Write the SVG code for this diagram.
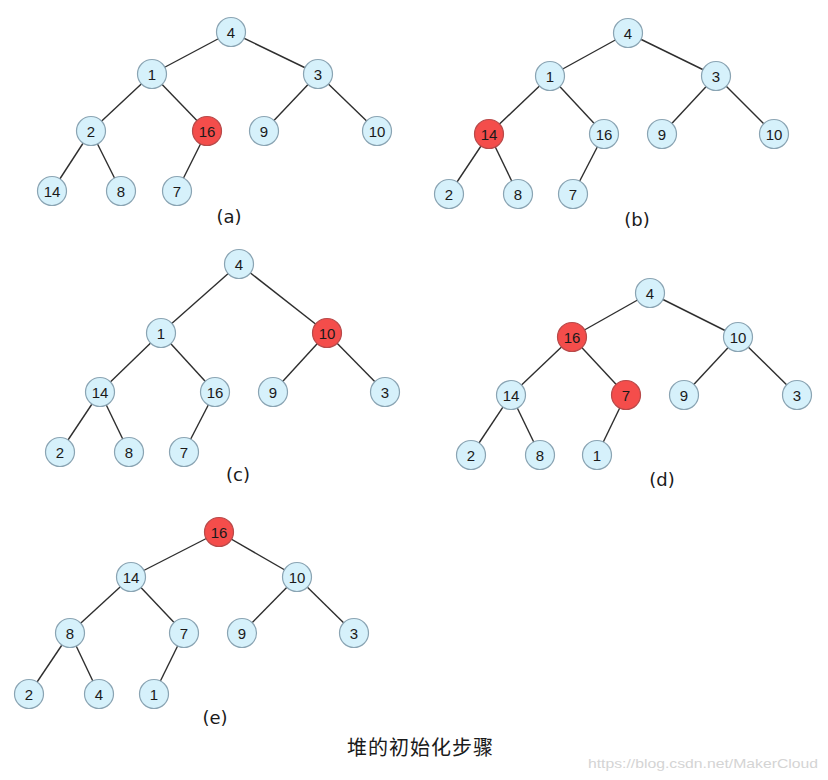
<svg xmlns="http://www.w3.org/2000/svg" width="828" height="780" viewBox="0 0 828 780">
<style>
.e{stroke:#2e2e2e;stroke-width:1.4;fill:none}
.n circle{fill:#d6f1fb;stroke:#8aa4b3;stroke-width:1.2}
.n.r circle{fill:#f44d4b;stroke:#b84a4a}
.n text{font-family:"Liberation Sans",Arial,sans-serif;font-size:15px;fill:#1a1a1a;text-anchor:middle;dominant-baseline:central}
.lb{font-family:"DejaVu Sans","Liberation Sans",sans-serif;font-size:18px;fill:#1a1a1a;text-anchor:middle}
</style>
<rect width="828" height="780" fill="#ffffff"/>
<g id="connectors">
<!-- (a) -->
<line class="e" x1="231" y1="32" x2="152" y2="74"/>
<line class="e" x1="231" y1="32" x2="318" y2="74"/>
<line class="e" x1="152" y1="74" x2="91" y2="131"/>
<line class="e" x1="152" y1="74" x2="207" y2="131"/>
<line class="e" x1="318" y1="74" x2="264" y2="131"/>
<line class="e" x1="318" y1="74" x2="377" y2="131"/>
<line class="e" x1="91" y1="131" x2="52" y2="191"/>
<line class="e" x1="91" y1="131" x2="121" y2="191"/>
<line class="e" x1="207" y1="131" x2="177" y2="191"/>
<!-- (b) -->
<line class="e" x1="628" y1="33" x2="550" y2="76"/>
<line class="e" x1="628" y1="33" x2="716" y2="76"/>
<line class="e" x1="550" y1="76" x2="489" y2="134"/>
<line class="e" x1="550" y1="76" x2="604" y2="134"/>
<line class="e" x1="716" y1="76" x2="662" y2="134"/>
<line class="e" x1="716" y1="76" x2="774" y2="134"/>
<line class="e" x1="489" y1="134" x2="449" y2="194"/>
<line class="e" x1="489" y1="134" x2="518" y2="194"/>
<line class="e" x1="604" y1="134" x2="573" y2="194"/>
<!-- (c) -->
<line class="e" x1="239" y1="264" x2="161" y2="333"/>
<line class="e" x1="239" y1="264" x2="327" y2="333"/>
<line class="e" x1="161" y1="333" x2="100" y2="392"/>
<line class="e" x1="161" y1="333" x2="215" y2="392"/>
<line class="e" x1="327" y1="333" x2="273" y2="392"/>
<line class="e" x1="327" y1="333" x2="385" y2="392"/>
<line class="e" x1="100" y1="392" x2="60" y2="452"/>
<line class="e" x1="100" y1="392" x2="129" y2="452"/>
<line class="e" x1="215" y1="392" x2="184" y2="452"/>
<!-- (d) -->
<line class="e" x1="650" y1="293" x2="572" y2="337"/>
<line class="e" x1="650" y1="293" x2="738" y2="337"/>
<line class="e" x1="572" y1="337" x2="511" y2="395"/>
<line class="e" x1="572" y1="337" x2="626" y2="395"/>
<line class="e" x1="738" y1="337" x2="684" y2="395"/>
<line class="e" x1="738" y1="337" x2="797" y2="395"/>
<line class="e" x1="511" y1="395" x2="471" y2="455"/>
<line class="e" x1="511" y1="395" x2="540" y2="455"/>
<line class="e" x1="626" y1="395" x2="597" y2="455"/>
<!-- (e) -->
<line class="e" x1="219" y1="532" x2="131" y2="577"/>
<line class="e" x1="219" y1="532" x2="297" y2="577"/>
<line class="e" x1="131" y1="577" x2="70" y2="633"/>
<line class="e" x1="131" y1="577" x2="184" y2="633"/>
<line class="e" x1="297" y1="577" x2="242" y2="633"/>
<line class="e" x1="297" y1="577" x2="354" y2="633"/>
<line class="e" x1="70" y1="633" x2="29" y2="694"/>
<line class="e" x1="70" y1="633" x2="99" y2="694"/>
<line class="e" x1="184" y1="633" x2="154" y2="694"/>
</g>
<!-- (a) nodes -->
<g id="a4" class="n"><circle cx="231" cy="32" r="14.5"/><text x="231" y="32">4</text></g>
<g id="a1" class="n"><circle cx="152" cy="74" r="14.5"/><text x="152" y="74">1</text></g>
<g id="a3" class="n"><circle cx="318" cy="74" r="14.5"/><text x="318" y="74">3</text></g>
<g id="a2" class="n"><circle cx="91" cy="131" r="14.5"/><text x="91" y="131">2</text></g>
<g id="a16" class="n r"><circle cx="207" cy="131" r="14.5"/><text x="207" y="131">16</text></g>
<g id="a9" class="n"><circle cx="264" cy="131" r="14.5"/><text x="264" y="131">9</text></g>
<g id="a10" class="n"><circle cx="377" cy="131" r="14.5"/><text x="377" y="131">10</text></g>
<g id="a14" class="n"><circle cx="52" cy="191" r="14.5"/><text x="52" y="191">14</text></g>
<g id="a8" class="n"><circle cx="121" cy="191" r="14.5"/><text x="121" y="191">8</text></g>
<g id="a7" class="n"><circle cx="177" cy="191" r="14.5"/><text x="177" y="191">7</text></g>
<text class="lb" x="229" y="223">(a)</text>
<!-- (b) nodes -->
<g id="b4" class="n"><circle cx="628" cy="33" r="14.5"/><text x="628" y="33">4</text></g>
<g id="b1" class="n"><circle cx="550" cy="76" r="14.5"/><text x="550" y="76">1</text></g>
<g id="b3" class="n"><circle cx="716" cy="76" r="14.5"/><text x="716" y="76">3</text></g>
<g id="b14" class="n r"><circle cx="489" cy="134" r="14.5"/><text x="489" y="134">14</text></g>
<g id="b16" class="n"><circle cx="604" cy="134" r="14.5"/><text x="604" y="134">16</text></g>
<g id="b9" class="n"><circle cx="662" cy="134" r="14.5"/><text x="662" y="134">9</text></g>
<g id="b10" class="n"><circle cx="774" cy="134" r="14.5"/><text x="774" y="134">10</text></g>
<g id="b2" class="n"><circle cx="449" cy="194" r="14.5"/><text x="449" y="194">2</text></g>
<g id="b8" class="n"><circle cx="518" cy="194" r="14.5"/><text x="518" y="194">8</text></g>
<g id="b7" class="n"><circle cx="573" cy="194" r="14.5"/><text x="573" y="194">7</text></g>
<text class="lb" x="637" y="226">(b)</text>
<!-- (c) nodes -->
<g id="c4" class="n"><circle cx="239" cy="264" r="14.5"/><text x="239" y="264">4</text></g>
<g id="c1" class="n"><circle cx="161" cy="333" r="14.5"/><text x="161" y="333">1</text></g>
<g id="c10" class="n r"><circle cx="327" cy="333" r="14.5"/><text x="327" y="333">10</text></g>
<g id="c14" class="n"><circle cx="100" cy="392" r="14.5"/><text x="100" y="392">14</text></g>
<g id="c16" class="n"><circle cx="215" cy="392" r="14.5"/><text x="215" y="392">16</text></g>
<g id="c9" class="n"><circle cx="273" cy="392" r="14.5"/><text x="273" y="392">9</text></g>
<g id="c3" class="n"><circle cx="385" cy="392" r="14.5"/><text x="385" y="392">3</text></g>
<g id="c2" class="n"><circle cx="60" cy="452" r="14.5"/><text x="60" y="452">2</text></g>
<g id="c8" class="n"><circle cx="129" cy="452" r="14.5"/><text x="129" y="452">8</text></g>
<g id="c7" class="n"><circle cx="184" cy="452" r="14.5"/><text x="184" y="452">7</text></g>
<text class="lb" x="238" y="481">(c)</text>
<!-- (d) nodes -->
<g id="d4" class="n"><circle cx="650" cy="293" r="14.5"/><text x="650" y="293">4</text></g>
<g id="d16" class="n r"><circle cx="572" cy="337" r="14.5"/><text x="572" y="337">16</text></g>
<g id="d10" class="n"><circle cx="738" cy="337" r="14.5"/><text x="738" y="337">10</text></g>
<g id="d14" class="n"><circle cx="511" cy="395" r="14.5"/><text x="511" y="395">14</text></g>
<g id="d7" class="n r"><circle cx="626" cy="395" r="14.5"/><text x="626" y="395">7</text></g>
<g id="d9" class="n"><circle cx="684" cy="395" r="14.5"/><text x="684" y="395">9</text></g>
<g id="d3" class="n"><circle cx="797" cy="395" r="14.5"/><text x="797" y="395">3</text></g>
<g id="d2" class="n"><circle cx="471" cy="455" r="14.5"/><text x="471" y="455">2</text></g>
<g id="d8" class="n"><circle cx="540" cy="455" r="14.5"/><text x="540" y="455">8</text></g>
<g id="d1" class="n"><circle cx="597" cy="455" r="14.5"/><text x="597" y="455">1</text></g>
<text class="lb" x="662" y="486">(d)</text>
<!-- (e) nodes -->
<g id="e16" class="n r"><circle cx="219" cy="532" r="14.5"/><text x="219" y="532">16</text></g>
<g id="e14" class="n"><circle cx="131" cy="577" r="14.5"/><text x="131" y="577">14</text></g>
<g id="e10" class="n"><circle cx="297" cy="577" r="14.5"/><text x="297" y="577">10</text></g>
<g id="e8" class="n"><circle cx="70" cy="633" r="14.5"/><text x="70" y="633">8</text></g>
<g id="e7" class="n"><circle cx="184" cy="633" r="14.5"/><text x="184" y="633">7</text></g>
<g id="e9" class="n"><circle cx="242" cy="633" r="14.5"/><text x="242" y="633">9</text></g>
<g id="e3" class="n"><circle cx="354" cy="633" r="14.5"/><text x="354" y="633">3</text></g>
<g id="e2" class="n"><circle cx="29" cy="694" r="14.5"/><text x="29" y="694">2</text></g>
<g id="e4" class="n"><circle cx="99" cy="694" r="14.5"/><text x="99" y="694">4</text></g>
<g id="e1" class="n"><circle cx="154" cy="694" r="14.5"/><text x="154" y="694">1</text></g>
<text class="lb" x="215" y="724">(e)</text>
<text x="347" y="755" font-family="'Noto Sans CJK SC',sans-serif" font-size="20" letter-spacing="1" fill="#1a1a1a">堆的初始化步骤</text>
<text x="588" y="768" font-family="'Liberation Sans',Arial,sans-serif" font-size="13" fill="#d4d4d4" textLength="230" lengthAdjust="spacingAndGlyphs">https://blog.csdn.net/MakerCloud</text>
</svg>
